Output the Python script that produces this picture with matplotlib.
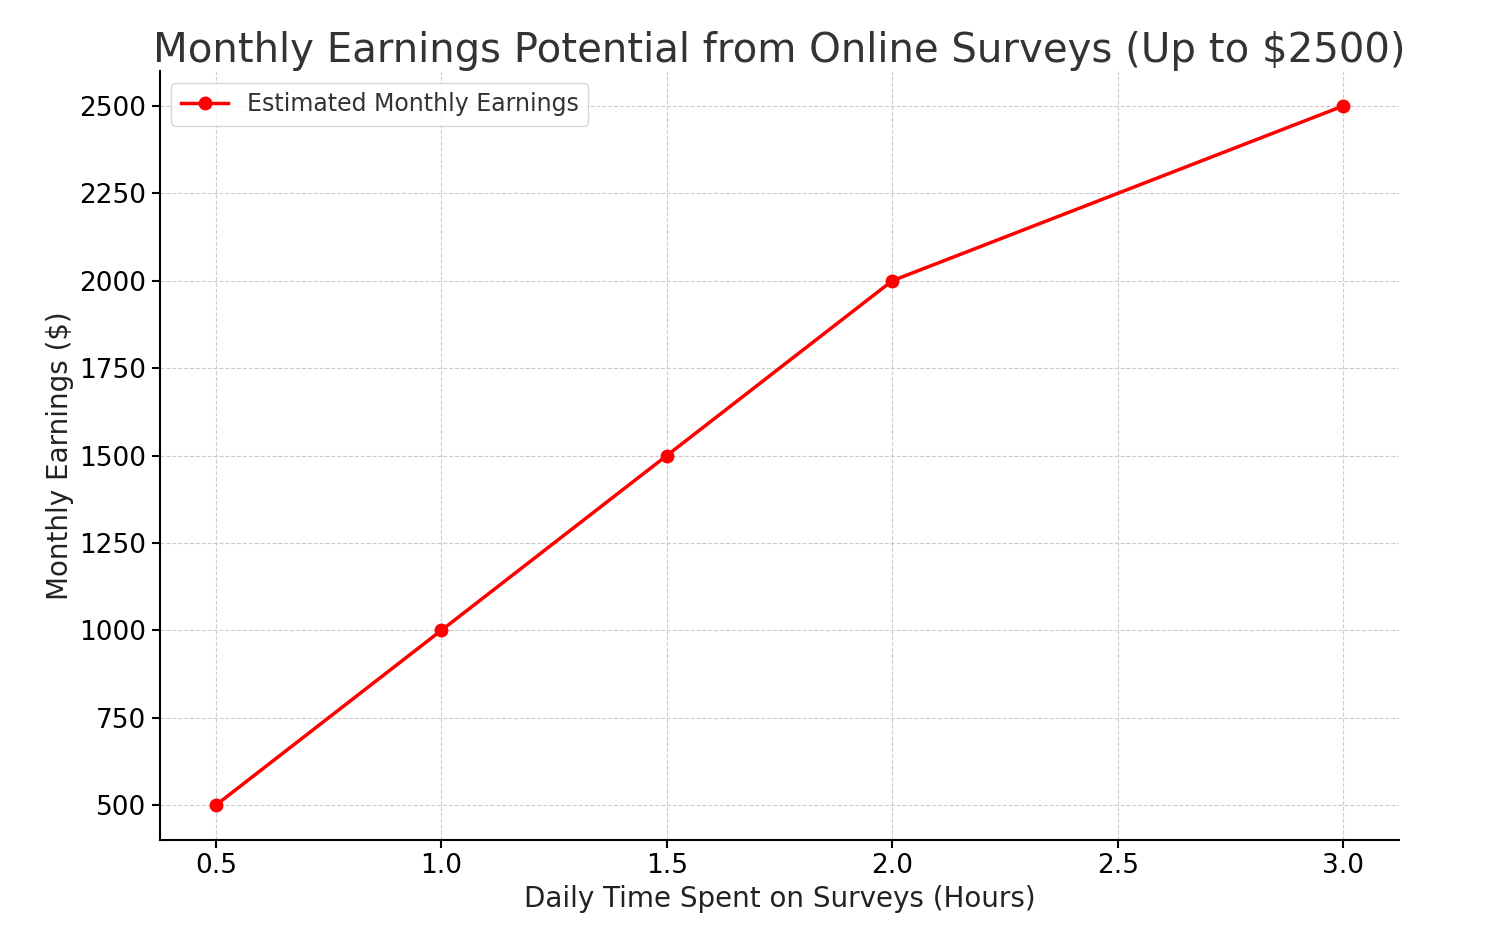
import matplotlib
matplotlib.use("Agg")
import matplotlib.pyplot as plt

hours = [0.5, 1.0, 1.5, 2.0, 3.0]
earnings = [500, 1000, 1500, 2000, 2500]

fig, ax = plt.subplots(figsize=(14.92, 9.47), dpi=100)
ax.plot(hours, earnings, color='red', marker='o', linewidth=2.5, markersize=9, label='Estimated Monthly Earnings')
ax.set_title('Monthly Earnings Potential from Online Surveys (Up to $2500)', fontsize=29, color='#333333')
ax.set_xlabel('Daily Time Spent on Surveys (Hours)', fontsize=20, color='#222222')
ax.set_ylabel('Monthly Earnings ($)', fontsize=20, color='#222222')
ax.tick_params(labelsize=19, width=1.5, length=6)
ax.set_xticks([0.5, 1.0, 1.5, 2.0, 2.5, 3.0])
ax.set_yticks(range(500, 2501, 250))
ax.set_ylim(400, 2600)
ax.grid(True, linestyle='--', color='#cccccc')
for s in ['left', 'bottom']:
    ax.spines[s].set_linewidth(1.5)
ax.spines['top'].set_visible(False)
ax.spines['right'].set_visible(False)
leg = ax.legend(loc='upper left', fontsize=17)
for t in leg.get_texts():
    t.set_color('#333333')
fig.subplots_adjust(left=0.107, right=0.938, top=0.925, bottom=0.113)
fig.savefig('out.png')
